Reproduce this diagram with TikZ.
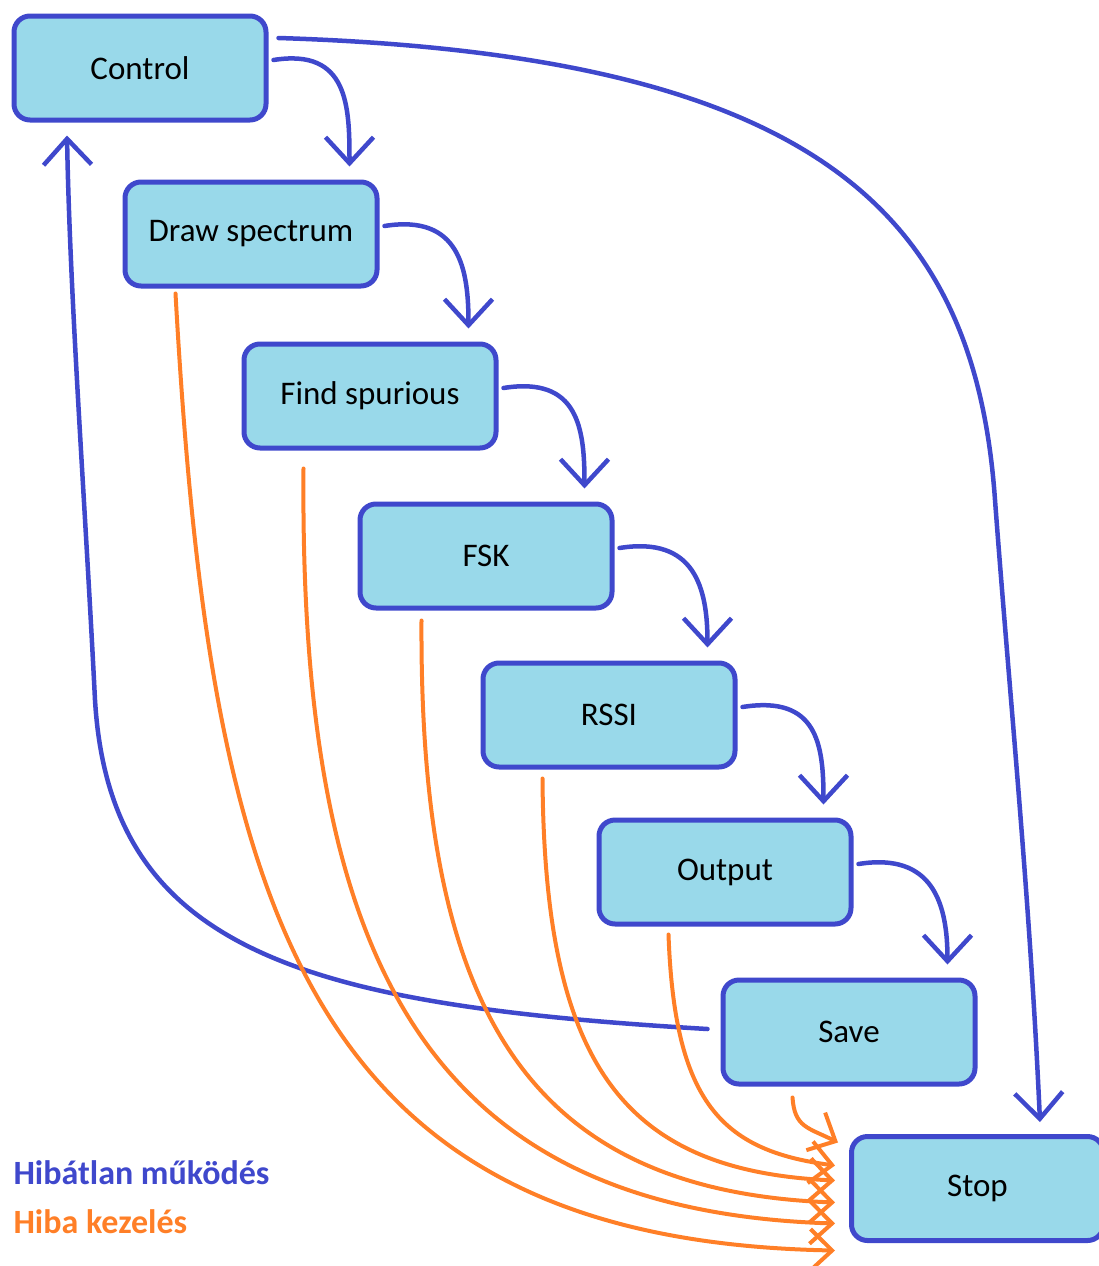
\documentclass[tikz,border=0pt]{standalone}
\usepackage{fontspec}
\setmainfont{Carlito}
\usetikzlibrary{positioning, arrows.meta}

\definecolor{okblue}{RGB}{63,72,204}
\definecolor{errorange}{RGB}{255,127,39}
\definecolor{boxfill}{RGB}{153,217,234}

\begin{document}
\begin{tikzpicture}[
    x=1pt, y=-1pt,
    font=\fontsize{33}{40}\selectfont,
    stepbox/.style={
        rectangle,
        rounded corners=16pt,
        draw=okblue,
        fill=boxfill,
        minimum width=252pt,
        minimum height=104pt,
        line width=5pt,
        align=center
    },
    okarrow/.style={-{Straight Barb[length=26pt,width=48pt]}, line width=4.5pt, draw=okblue, line cap=round, line join=round},
    errarrow/.style={-{Straight Barb[length=22pt,width=42pt]}, line width=4pt, draw=errorange, line cap=round, line join=round},
    legendstyle/.style={font=\fontsize{34}{40}\selectfont\bfseries, anchor=west}
]
\useasboundingbox (0,0) rectangle (1099,1266);

% Dobozok
\node[stepbox] (ctrl) at (140,68) {Control};
\node[stepbox] (spec) at (251,234) {Draw spectrum};
\node[stepbox] (spur) at (370,396) {Find spurious};
\node[stepbox] (fsk) at (486,556) {FSK};
\node[stepbox] (rssi) at (609,715) {RSSI};
\node[stepbox] (out) at (725,872) {Output};
\node[stepbox] (save) at (849,1032) {Save};
\node[stepbox] (stop) at (977.5,1188.5) {Stop};

% Hibatlan mukodes
\draw[okarrow] ([xshift=5pt,yshift=8pt]ctrl.east) .. controls +(75,-12) and +(0,-60) .. ([xshift=-30pt,yshift=13pt]spec.north east);
\draw[okarrow] ([xshift=5pt,yshift=8pt]spec.east) .. controls +(75,-12) and +(0,-60) .. ([xshift=-30pt,yshift=13pt]spur.north east);
\draw[okarrow] ([xshift=5pt,yshift=8pt]spur.east) .. controls +(75,-12) and +(0,-60) .. ([xshift=-30pt,yshift=13pt]fsk.north east);
\draw[okarrow] ([xshift=5pt,yshift=8pt]fsk.east) .. controls +(75,-12) and +(0,-60) .. ([xshift=-30pt,yshift=13pt]rssi.north east);
\draw[okarrow] ([xshift=5pt,yshift=8pt]rssi.east) .. controls +(75,-12) and +(0,-60) .. ([xshift=-30pt,yshift=13pt]out.north east);
\draw[okarrow] ([xshift=5pt,yshift=8pt]out.east) .. controls +(75,-12) and +(0,-60) .. ([xshift=-30pt,yshift=13pt]save.north east);

\draw[okarrow] ([xshift=10pt,yshift=30pt]ctrl.east) .. controls (820,55) and (975,215) .. (995,500) .. controls (1010,700) and (1030,900) .. ([xshift=62.5pt,yshift=12pt]stop.north);
\draw[okarrow] ([xshift=-13pt,yshift=3pt]save.west) .. controls (300,1005) and (110,950) .. (95,700) .. controls (85,500) and (70,300) .. ([xshift=-73pt,yshift=-13pt]ctrl.south);

% Hiba kezeles
\draw[errarrow] ([xshift=53pt,yshift=-5pt]spec.south west) .. controls +(34,607) and +(-535,-10) .. ([xshift=-14pt,yshift=-62pt]stop.west);
\draw[errarrow] ([xshift=62pt,yshift=-18pt]spur.south west) .. controls +(-4,482) and +(-415,-13) .. ([xshift=-14pt,yshift=-35pt]stop.west);
\draw[errarrow] ([xshift=64pt,yshift=-10pt]fsk.south west) .. controls +(-2,380) and +(-315,-12) .. ([xshift=-14pt,yshift=-14pt]stop.west);
\draw[errarrow] ([xshift=62pt,yshift=-9pt]rssi.south west) .. controls +(2,282) and +(-215,-10) .. ([xshift=-14pt,yshift=8pt]stop.west);
\draw[errarrow] ([xshift=72pt,yshift=-8pt]out.south west) .. controls +(6,166) and +(-115,-15) .. ([xshift=-14pt,yshift=23pt]stop.west);
\draw[errarrow] ([xshift=72pt,yshift=-11pt]save.south west) .. controls +(2,30) and +(-30,-15) .. ([xshift=-11pt,yshift=46pt]stop.west);

% Jelmagyarazat
\node[legendstyle, text=okblue] (okleg) at (10,1173) {Hibátlan működés};
\node[legendstyle, text=errorange] (errleg) at (10,1222) {Hiba kezelés};

\end{tikzpicture}
\end{document}
